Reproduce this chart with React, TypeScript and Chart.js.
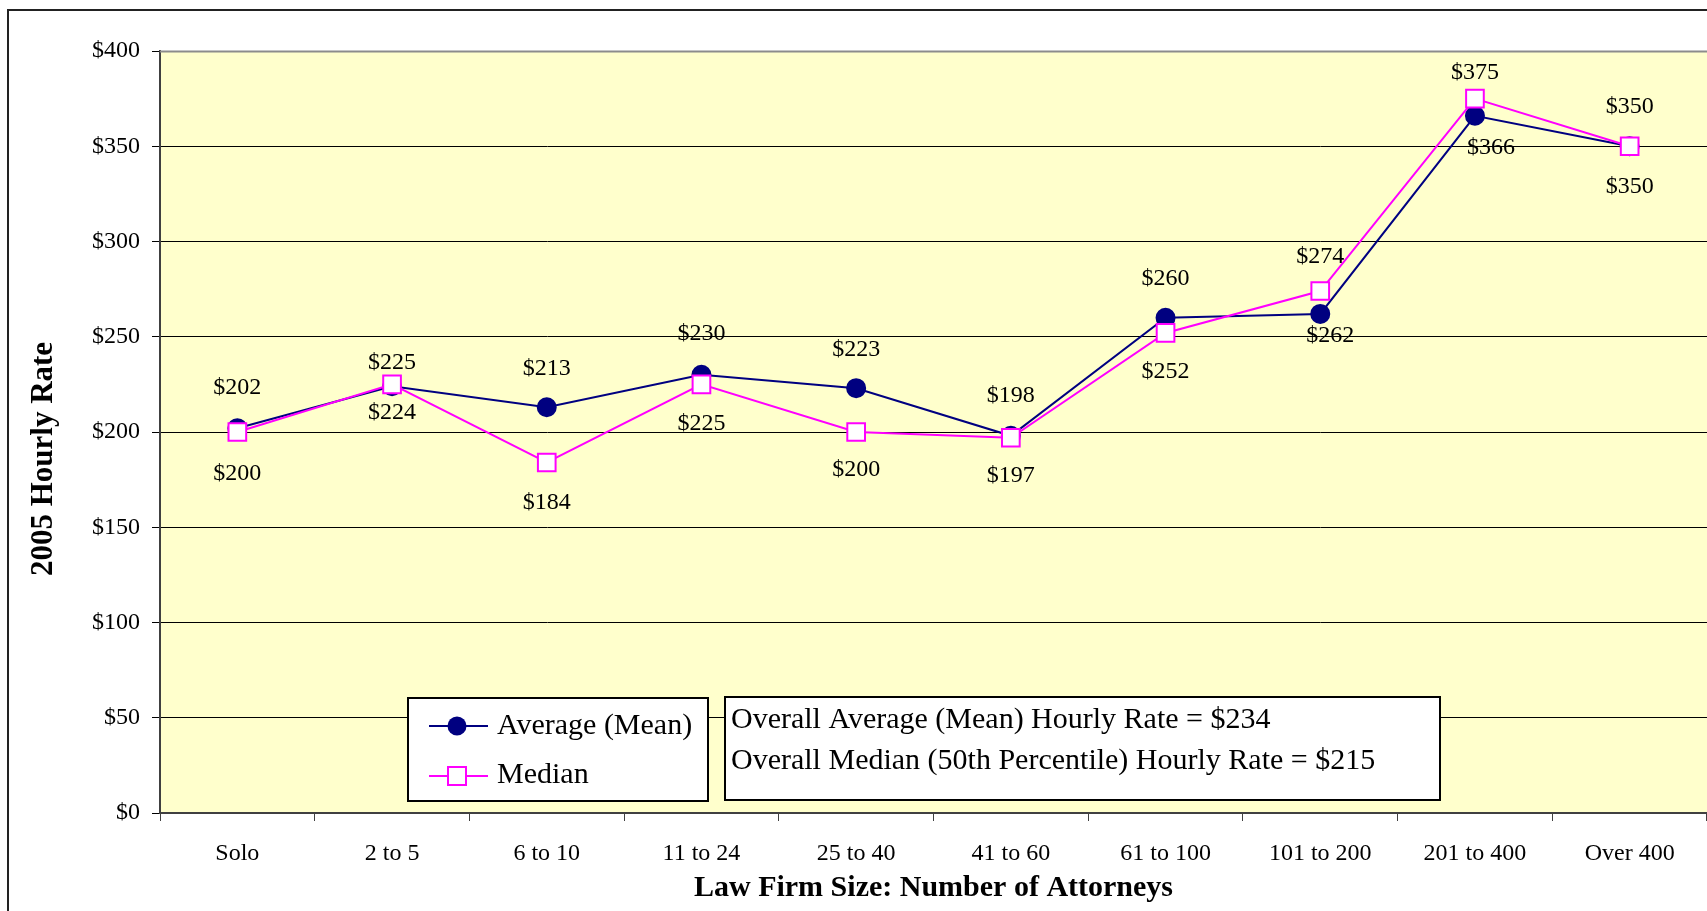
import React, { useEffect, useRef } from "react";
import { Chart, registerables } from "chart.js";

Chart.register(...registerables);

const categories = ["Solo", "2 to 5", "6 to 10", "11 to 24", "25 to 40", "41 to 60", "61 to 100", "101 to 200", "201 to 400", "Over 400"];
const meanRates = [202, 224, 213, 230, 223, 198, 260, 262, 366, 350];
const medianRates = [200, 225, 184, 225, 200, 197, 252, 274, 375, 350];
const yTicks = [0, 50, 100, 150, 200, 250, 300, 350, 400];
const overallMean = 234;
const overallMedian = 215;

const SERIF = "'Liberation Serif', 'Times New Roman', Times, serif";
const W = 1707;
const H = 911;

const framePlugin = {
  id: "frame",
  beforeDraw(chart: any) {
    const { ctx, chartArea } = chart;
    ctx.save();
    ctx.fillStyle = "#ffffff";
    ctx.fillRect(0, 0, chart.width, chart.height);
    ctx.strokeStyle = "#222222";
    ctx.lineWidth = 2;
    ctx.beginPath();
    ctx.moveTo(8, chart.height + 2);
    ctx.lineTo(8, 10);
    ctx.lineTo(chart.width + 2, 10);
    ctx.stroke();
    ctx.fillStyle = "#FFFFCC";
    ctx.fillRect(chartArea.left, chartArea.top, chartArea.right - chartArea.left, chartArea.bottom - chartArea.top);
    ctx.restore();
  },
  beforeDatasetsDraw(chart: any) {
    const { ctx, chartArea } = chart;
    ctx.save();
    ctx.strokeStyle = "#8c8c8c";
    ctx.lineWidth = 2;
    ctx.beginPath();
    ctx.moveTo(chartArea.left, chartArea.top + 0.5);
    ctx.lineTo(chartArea.right, chartArea.top + 0.5);
    ctx.stroke();
    ctx.restore();
    // y title
    ctx.save();
    ctx.translate(44, 459);
    ctx.rotate(-Math.PI / 2);
    ctx.fillStyle = "#000";
    ctx.font = `bold 31px ${SERIF}`;
    ctx.textAlign = "center";
    ctx.textBaseline = "middle";
    ctx.fillText("2005 Hourly Rate", 0, 0);
    ctx.restore();
  },
};

const labelPlugin = {
  id: "pointLabels",
  afterDatasetsDraw(chart: any) {
    const { ctx } = chart;
    ctx.save();
    ctx.fillStyle = "#000";
    ctx.font = `24px ${SERIF}`;
    ctx.textAlign = "center";
    ctx.textBaseline = "middle";
    chart.data.datasets.forEach((ds: any, i: number) => {
      const meta = chart.getDatasetMeta(i);
      meta.data.forEach((pt: any, j: number) => {
        const dy = ds.labelDy ? ds.labelDy[j] : -40;
        const dx = ds.labelDx ? ds.labelDx[j] : 0;
        ctx.fillText("$" + ds.data[j], pt.x + dx, pt.y + dy);
      });
    });
    ctx.restore();
  },
  afterDraw(chart: any) {
    const { ctx } = chart;
    const dsMean = chart.data.datasets[0];
    const dsMed = chart.data.datasets[1];
    ctx.save();
    // legend box
    ctx.fillStyle = "#ffffff";
    ctx.fillRect(408, 698, 300, 103);
    ctx.strokeStyle = "#000";
    ctx.lineWidth = 2;
    ctx.strokeRect(408, 698, 300, 103);
    // entry 1
    ctx.strokeStyle = dsMean.borderColor;
    ctx.lineWidth = 2;
    ctx.beginPath();
    ctx.moveTo(429, 726);
    ctx.lineTo(488, 726);
    ctx.stroke();
    ctx.fillStyle = dsMean.pointBackgroundColor;
    ctx.beginPath();
    ctx.arc(457, 726, 9.5, 0, Math.PI * 2);
    ctx.fill();
    // entry 2
    ctx.strokeStyle = dsMed.borderColor;
    ctx.beginPath();
    ctx.moveTo(429, 776);
    ctx.lineTo(488, 776);
    ctx.stroke();
    ctx.fillStyle = "#ffffff";
    ctx.fillRect(448, 767, 18, 18);
    ctx.strokeRect(448, 767, 18, 18);
    ctx.fillStyle = "#000";
    ctx.font = `30px ${SERIF}`;
    ctx.textAlign = "left";
    ctx.textBaseline = "alphabetic";
    ctx.fillText(dsMean.label, 497, 734);
    ctx.fillText(dsMed.label, 497, 783);
    // summary box
    ctx.fillStyle = "#ffffff";
    ctx.fillRect(725, 697, 715, 103);
    ctx.strokeStyle = "#000";
    ctx.lineWidth = 2;
    ctx.strokeRect(725, 697, 715, 103);
    ctx.fillStyle = "#000";
    ctx.fillText(`Overall Average (Mean) Hourly Rate = $${overallMean}`, 731, 728);
    ctx.fillText(`Overall Median (50th Percentile) Hourly Rate = $${overallMedian}`, 731, 769);
    ctx.restore();
  },
};

export default function App() {
  const ref = useRef<HTMLCanvasElement | null>(null);
  useEffect(() => {
    if (!ref.current) return;
    const chart = new Chart(ref.current, {
      type: "line",
      data: {
        labels: categories,
        datasets: [
          {
            label: "Average (Mean)",
            data: meanRates,
            borderColor: "#000080",
            backgroundColor: "#000080",
            borderWidth: 2,
            pointStyle: "circle",
            pointRadius: 9,
            pointBorderWidth: 2,
            pointBackgroundColor: "#000080",
            pointBorderColor: "#000080",
            tension: 0,
            order: 2,
            labelDy: [-40, 26, -39, -41, -38, -40, -39, 22, 32, -40],
            labelDx: [0, 0, 0, 0, 0, 0, 0, 10, 16, 0],
          } as any,
          {
            label: "Median",
            data: medianRates,
            borderColor: "#FF00FF",
            backgroundColor: "#FFFFFF",
            borderWidth: 2,
            pointStyle: "rect",
            pointRadius: 12.5,
            pointBorderWidth: 2,
            pointBackgroundColor: "#FFFFFF",
            pointBorderColor: "#FF00FF",
            tension: 0,
            order: 1,
            labelDy: [42, -22, 40, 39, 38, 38, 39, -34, -26, 40],
            labelDx: [0, 0, 0, 0, 0, 0, 0, 0, 0, 0],
          } as any,
        ],
      },
      options: {
        responsive: false,
        animation: false,
        devicePixelRatio: 1,
        layout: { autoPadding: false, padding: { top: 51, left: 0, right: 0, bottom: 0 } },
        plugins: {
          legend: { display: false },
          tooltip: { enabled: false },
        },
        scales: {
          x: {
            type: "category",
            offset: true,
            grid: {
              display: true,
              drawOnChartArea: false,
              drawTicks: true,
              tickLength: 8,
              color: "#404040",
              lineWidth: 1,
              offset: true,
            },
            border: { display: true, color: "#404040", width: 2 },
            ticks: {
              color: "#000",
              font: { family: SERIF, size: 24 },
              padding: 18,
              maxRotation: 0,
              autoSkip: false,
            },
            title: {
              display: true,
              text: "Law Firm Size: Number of Attorneys",
              color: "#000",
              font: { family: SERIF, size: 30, weight: "bold" },
              padding: { top: 0, bottom: 5 },
            },
            afterFit: (s: any) => {
              s.height = 98;
              s.paddingLeft = 0;
              s.paddingRight = 0;
            },
          },
          y: {
            min: 0,
            max: 400,
            afterBuildTicks: (s: any) => {
              s.ticks = yTicks.map((v) => ({ value: v }));
            },
            ticks: {
              color: "#000",
              font: { family: SERIF, size: 24 },
              padding: 12,
              callback: (v: any) => "$" + v,
            },
            grid: { color: "#000", lineWidth: 1, tickLength: 8, drawTicks: true },
            border: { display: true, color: "#404040", width: 2 },
            afterFit: (s: any) => {
              s.width = 160;
            },
          },
        },
      } as any,
      plugins: [framePlugin, labelPlugin],
    });
    return () => chart.destroy();
  }, []);
  return (
    <div style={{ position: "fixed", left: 0, top: 0, width: W, height: H, overflow: "hidden", background: "#fff" }}>
      <canvas ref={ref} width={W} height={H} style={{ display: "block", width: W, height: H }} />
    </div>
  );
}
